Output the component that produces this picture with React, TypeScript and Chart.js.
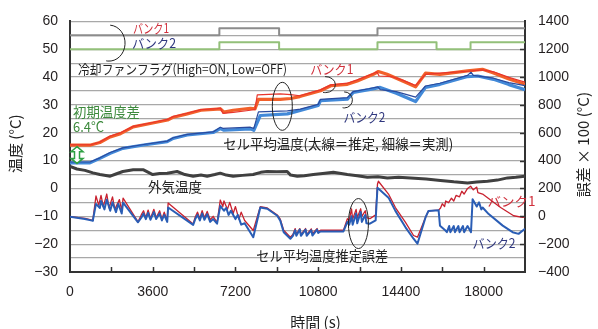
import React, { useEffect, useRef } from 'react';
import { Chart, registerables } from 'chart.js';

Chart.register(...registerables);

const X_MAX = 19800;

// Cooling fan flags (High = ON)
const fan1T = [0, 6500, 6500, 9100, 9100, 13380, 13380, 19800];
const fan1V = [55, 55, 57.5, 57.5, 55, 55, 57.5, 57.5];
const fan2T = [0, 6500, 6500, 9100, 9100, 13380, 13380, 15950, 15950, 17430, 17430, 19800];
const fan2V = [50, 50, 52.5, 52.5, 50, 50, 52.5, 52.5, 50, 50, 52.5, 52.5];

// Bank1 cell average temperature (estimated = thick, measured = thin)
const b1EstT = [0, 900, 1300, 1750, 2200, 2750, 3600, 4250, 4500, 5100, 5700, 6400, 6550, 6700, 7100, 7850, 8050, 8200, 9150, 9600, 10000, 10900, 11350, 12070, 12500, 13200, 13420, 13800, 14500, 15040, 15470, 16100, 17300, 17950, 18430, 19100, 19800];
const b1EstV = [15.6, 15.6, 16.5, 18.5, 19.7, 22.1, 23.5, 24.6, 25.6, 26.8, 28.1, 28.5, 28.6, 27.4, 28.1, 28.8, 28.6, 32.0, 32.0, 32.3, 33.0, 35.1, 36.9, 37.4, 38.6, 41.0, 42.0, 41.0, 38.5, 36.5, 41.4, 41.0, 42.2, 42.8, 41.5, 39.3, 37.4];
const b1MeasT = [0, 900, 1300, 1750, 2200, 2750, 3600, 4250, 4500, 5100, 5700, 6400, 6550, 6650, 7100, 7850, 8050, 8150, 9150, 9600, 10000, 10900, 11350, 12070, 12500, 13200, 13350, 13450, 14000, 14500, 15040, 15470, 16100, 17300, 17950, 18430, 19100, 19800];
const b1MeasV = [15.7, 15.7, 16.7, 18.8, 20.0, 22.3, 23.7, 24.8, 25.9, 27.0, 28.3, 28.7, 28.9, 27.0, 27.3, 28.1, 28.4, 33.6, 34.0, 33.7, 33.3, 35.4, 37.2, 37.8, 39.0, 41.3, 41.9, 40.4, 40.2, 38.8, 37.0, 41.0, 41.4, 42.1, 42.6, 41.9, 39.9, 38.2];

// Bank2 cell average temperature
const b2EstT = [0, 870, 1300, 1750, 2300, 3200, 4230, 4490, 5100, 6230, 6540, 6700, 7850, 8000, 8280, 9460, 10020, 10800, 10900, 12070, 12330, 13000, 13500, 14200, 15040, 15470, 16100, 17300, 17740, 18430, 19100, 19800];
const b2EstV = [9.2, 9.2, 10.8, 12.6, 14.4, 15.6, 16.8, 18.0, 19.2, 20.1, 21.5, 20.9, 21.4, 20.9, 26.2, 26.8, 28.0, 29.8, 31.5, 32.1, 34.5, 35.5, 36.3, 34.2, 31.2, 36.3, 37.4, 40.2, 40.4, 39.2, 37.3, 35.5];
const b2MeasT = [0, 870, 1300, 1750, 2300, 3200, 4230, 4490, 5100, 6230, 6540, 6650, 7850, 8000, 8200, 9460, 10020, 10800, 10900, 12070, 12330, 13000, 13400, 13500, 14200, 15040, 15470, 16100, 17300, 17450, 17550, 18430, 19100, 19800];
const b2MeasV = [9.5, 9.5, 11.0, 12.9, 14.6, 15.8, 17.0, 18.2, 19.4, 20.3, 22.0, 21.6, 22.0, 21.6, 27.5, 27.9, 28.5, 30.2, 32.0, 32.6, 34.8, 35.8, 36.5, 35.5, 34.8, 32.8, 36.8, 37.8, 40.6, 41.8, 40.6, 39.6, 38.0, 36.9];

// Outside air temperature
const outT = [0, 300, 650, 1000, 1300, 1750, 2000, 2300, 2750, 3200, 3600, 3900, 4230, 4660, 5000, 5360, 5700, 5970, 6300, 6540, 6800, 7100, 7500, 7970, 8300, 8580, 9000, 9450, 9600, 9890, 10200, 10590, 11000, 11460, 11800, 12070, 12500, 12940, 13400, 13810, 14300, 14820, 15500, 16120, 16700, 17300, 17700, 18170, 18600, 19040, 19400, 19800];
const outV = [7.9, 7.0, 6.5, 5.6, 5.0, 4.4, 5.2, 6.1, 6.7, 6.7, 5.0, 5.4, 5.5, 6.1, 5.0, 4.4, 4.8, 4.4, 5.0, 5.5, 4.8, 4.4, 4.7, 5.0, 5.8, 6.1, 6.0, 6.1, 4.8, 4.4, 4.6, 5.0, 5.4, 5.8, 5.4, 5.0, 4.6, 4.0, 4.2, 3.8, 4.0, 3.8, 3.4, 2.9, 2.4, 2.0, 2.3, 2.6, 3.0, 3.8, 4.0, 4.4];

// Estimation error (x100 °C), right axis
const e2T = [0, 650, 960, 1000, 1130, 1300, 1350, 1500, 1600, 1750, 1850, 2000, 2100, 2250, 2310, 2960, 3100, 3200, 3300, 3400, 3500, 3650, 3750, 3900, 4000, 4100, 4230, 4270, 5360, 5450, 5550, 5650, 5750, 5850, 5970, 6100, 6230, 6400, 6540, 6700, 6800, 6900, 7000, 7200, 7300, 7450, 7600, 7975, 8280, 8585, 9020, 9150, 9300, 9590, 9700, 9800, 9850, 10000, 10050, 10250, 10300, 10500, 10550, 10750, 10800, 10900, 11900, 12070, 12150, 12250, 12300, 12450, 12500, 12650, 12700, 12850, 12900, 13050, 13300, 13380, 13860, 14160, 14600, 14950, 15120, 15470, 15600, 16040, 16100, 16340, 16400, 16500, 16550, 16700, 16750, 16900, 16950, 17100, 17150, 17300, 17450, 17520, 17700, 17800, 17900, 17955, 18220, 18830, 19260, 19520, 19800];
const e2V = [-3, -19, -31, -25, 89, 60, 110, 50, 120, 40, 100, 30, 90, 20, 98, -43, -10, 20, -20, 25, -25, 30, -20, 20, -30, 10, -40, 63, -62, -20, 10, -30, 20, -25, 15, -40, -20, -53, 75, 40, 60, 10, 40, -20, 10, -60, -50, -150, 63, 54, 4, -31, -114, -161, -140, -100, -140, -95, -140, -95, -140, -100, -138, -95, -120, -109, -109, -40, -60, 0, -60, 20, -50, 30, -40, 10, -50, -53, -30, 205, 134, 39, -79, -161, -197, -8, 39, 44, -67, -102, -114, -70, -114, -70, -114, -70, -114, -70, -114, -70, -114, 122, 70, 100, 50, 63, 16, -67, -114, -126, -90];
const e1T = [0, 650, 960, 1000, 1130, 1250, 1350, 1450, 1600, 1700, 1850, 1950, 2150, 2250, 2310, 2960, 3100, 3200, 3300, 3400, 3500, 3650, 3750, 3900, 4000, 4100, 4230, 4270, 5360, 5450, 5550, 5650, 5750, 5850, 5970, 6100, 6230, 6400, 6540, 6650, 6700, 6850, 6950, 7100, 7200, 7350, 7450, 7600, 7975, 8280, 8585, 9020, 9150, 9300, 9590, 9700, 9800, 9850, 10000, 10050, 10250, 10300, 10500, 10550, 10750, 10800, 10900, 11900, 12070, 12150, 12250, 12300, 12450, 12500, 12650, 12700, 12850, 12900, 13050, 13300, 13380, 13420, 13860, 14160, 14600, 14950, 15120, 15470, 15600, 16040, 16125, 16200, 16300, 16350, 16473, 16600, 16700, 16800, 16950, 17050, 17150, 17300, 17432, 17550, 17700, 17750, 17955, 18200, 18739, 19306, 19700, 19800];
const e1V = [-3, -15, -28, -20, 146, 80, 150, 70, 160, 60, 140, 50, 120, 40, 131, -40, 10, 40, -10, 45, -15, 50, -10, 40, -20, 30, -30, 96, -55, -5, 30, -15, 40, -10, 35, -25, 0, -45, 117, 70, 110, 50, 100, 20, 70, -20, 30, -30, -102, 70, 60, 10, -20, -100, -150, -130, -88, -130, -88, -130, -88, -130, -90, -125, -88, -110, -100, -100, -17, -30, 54, -20, 50, -10, 54, 0, 40, -10, -17, 10, 230, 252, 160, 63, -43, -138, -150, -8, 39, 44, 60, 90, 70, 110, 98, 130, 110, 150, 140, 180, 160, 200, 216, 190, 210, 170, 160, 130, 63, 4, -8, -3];

const JP = '"Noto Sans CJK JP", "Noto Sans", sans-serif';
const NUM = '"Liberation Sans", Arial, sans-serif';
const RED = '#d0303c';
const NAVY = '#30387f';
const GREEN = '#3d8a3d';

const notes = [
  { t: 2746, v: 57.5, text: 'バンク1', color: RED, size: 13, w: 36 },
  { t: 2702, v: 52.2, text: 'バンク2', color: NAVY, size: 13, w: 44 },
  { t: 349, v: 43.0, text: '冷却ファンフラグ(High=ON, Low=OFF)', color: '#222', size: 13, w: 209 },
  { t: 131, v: 27.4, text: '初期温度差', color: GREEN, size: 14, w: 67 },
  { t: 131, v: 22.1, text: '6.4°C', color: GREEN, size: 14, w: 31 },
  { t: 6668, v: 16.1, text: 'セル平均温度(太線＝推定, 細線＝実測)', color: '#222', size: 14, w: 230 },
  { t: 10459, v: 43.0, text: 'バンク1', color: RED, size: 13, w: 43 },
  { t: 11897, v: 25.6, text: 'バンク2', color: NAVY, size: 13, w: 42 },
  { t: 3399, v: 0.8, text: '外気温度', color: '#222', size: 14, w: 54 },
  { t: 8106, v: -24.0, text: 'セル平均温度推定誤差', color: '#222', size: 14, w: 132 },
  { t: 18173, v: -4.5, text: 'バンク1', color: RED, size: 13, w: 48 },
  { t: 17519, v: -19.7, text: 'バンク2', color: NAVY, size: 13, w: 43 },
];

const ellipses = [
  { t: 1700, v: 52.2, rx: 16, ry: 18, a0: -1.5, a1: 1.75 },
  { t: 9239, v: 29.5, rx: 10, ry: 24, a0: 0, a1: Math.PI * 2 },
  { t: 11113, v: 37.3, rx: 10, ry: 8, a0: -1.6, a1: 1.8 },
  { t: 11941, v: 31.8, rx: 8, ry: 8, a0: -1.6, a1: 1.8 },
  { t: 12551, v: -12.6, rx: 10, ry: 25, a0: 0, a1: Math.PI * 2 },
];

const arrowSpec = { t: 305, vTop: 15.0, vBot: 9.0 };

const pts = (T: number[], V: number[]) => T.map((t, i) => ({ x: t, y: V[i] }));
const minus = (v: number) => String(v).replace('-', '−');

const overlay = {
  id: 'overlay',
  afterDatasetsDraw(chart: any) {
    const { ctx, chartArea: ca, scales } = chart;
    const xs = scales.x, ys = scales.y, rs = scales.y2;
    ctx.save();
    // inner tick marks
    ctx.strokeStyle = '#333';
    ctx.lineWidth = 1.5;
    for (let t = 1800; t < X_MAX; t += 1800) {
      const p = Math.round(xs.getPixelForValue(t)) + 0.5;
      ctx.beginPath(); ctx.moveTo(p, ca.bottom); ctx.lineTo(p, ca.bottom - 5); ctx.stroke();
    }
    for (let r = -200; r < 1400; r += 200) {
      const p = Math.round(rs.getPixelForValue(r)) + 0.5;
      ctx.beginPath(); ctx.moveTo(ca.right, p); ctx.lineTo(ca.right - 5, p); ctx.stroke();
    }
    // ellipses / brackets
    ctx.strokeStyle = '#222';
    ctx.lineWidth = 1;
    for (const e of ellipses) {
      ctx.beginPath();
      ctx.ellipse(xs.getPixelForValue(e.t), ys.getPixelForValue(e.v), e.rx, e.ry, 0, e.a0, e.a1);
      ctx.stroke();
    }
    // double arrow
    const ax = xs.getPixelForValue(arrowSpec.t);
    const y0 = ys.getPixelForValue(arrowSpec.vTop);
    const y1 = ys.getPixelForValue(arrowSpec.vBot);
    const hw = 6, hh = 5, sw = 2.5;
    ctx.beginPath();
    ctx.moveTo(ax, y0);
    ctx.lineTo(ax + hw, y0 + hh); ctx.lineTo(ax + sw, y0 + hh);
    ctx.lineTo(ax + sw, y1 - hh); ctx.lineTo(ax + hw, y1 - hh);
    ctx.lineTo(ax, y1);
    ctx.lineTo(ax - hw, y1 - hh); ctx.lineTo(ax - sw, y1 - hh);
    ctx.lineTo(ax - sw, y0 + hh); ctx.lineTo(ax - hw, y0 + hh);
    ctx.closePath();
    ctx.fillStyle = '#ffffff';
    ctx.fill();
    ctx.strokeStyle = '#2ea043';
    ctx.lineWidth = 1.5;
    ctx.stroke();
    // notes (compressed to the reference widths)
    ctx.textBaseline = 'middle';
    ctx.textAlign = 'left';
    for (const n of notes) {
      ctx.font = `${n.size}px ${JP}`;
      ctx.fillStyle = n.color;
      const m = ctx.measureText(n.text).width;
      const sx = n.w ? n.w / m : 1;
      ctx.save();
      ctx.translate(xs.getPixelForValue(n.t), ys.getPixelForValue(n.v));
      ctx.scale(sx, 1);
      ctx.fillText(n.text, 0, 0);
      ctx.restore();
    }
    // axis titles
    ctx.fillStyle = '#222';
    ctx.font = `15px ${JP}`;
    ctx.textAlign = 'center';
    const midY = (ca.top + ca.bottom) / 2;
    ctx.save();
    ctx.translate(15, midY - 3);
    ctx.rotate(-Math.PI / 2);
    ctx.fillText('温度 (°C)', 0, 0);
    ctx.restore();
    ctx.save();
    ctx.translate(ca.right + 58, midY - 2);
    ctx.rotate(-Math.PI / 2);
    ctx.fillText('誤差 × 100 (°C)', 0, 0);
    ctx.restore();
    ctx.fillText('時間 (s)', (ca.left + ca.right) / 2 + 18, ca.bottom + 50);
    ctx.restore();
  },
};

export default function App() {
  const ref = useRef<HTMLCanvasElement>(null);
  useEffect(() => {
    if (!ref.current) return;
    const tickFont = { family: NUM, size: 14 };
    const chart = new Chart(ref.current, {
      type: 'line',
      data: {
        datasets: [
          { label: 'fan1', data: pts(fan1T, fan1V), borderColor: '#8c8c8c', borderWidth: 2 },
          { label: 'fan2', data: pts(fan2T, fan2V), borderColor: '#93c07a', borderWidth: 2 },
          { label: 'b1meas', data: pts(b1MeasT, b1MeasV), borderColor: '#e8352c', borderWidth: 1.2 },
          { label: 'b2meas', data: pts(b2MeasT, b2MeasV), borderColor: '#2a4a9e', borderWidth: 1.2 },
          { label: 'b1est', data: pts(b1EstT, b1EstV), borderColor: '#f2602a', borderWidth: 3.2 },
          { label: 'b2est', data: pts(b2EstT, b2EstV), borderColor: '#4289d8', borderWidth: 3.2 },
          { label: 'out', data: pts(outT, outV), borderColor: '#404040', borderWidth: 3 },
          { label: 'err2', data: pts(e2T, e2V), borderColor: '#2a5db5', borderWidth: 2, yAxisID: 'y2' },
          { label: 'err1', data: pts(e1T, e1V), borderColor: '#c8202e', borderWidth: 1.3, yAxisID: 'y2' },
        ] as any,
      },
      options: {
        animation: false,
        responsive: true,
        maintainAspectRatio: false,
        layout: { padding: { top: 18, left: 0, right: 0, bottom: 0 } },
        elements: { point: { radius: 0 }, line: { tension: 0, borderJoinStyle: 'round' } },
        plugins: { legend: { display: false }, tooltip: { enabled: false } },
        scales: {
          x: {
            type: 'linear',
            min: 0,
            max: X_MAX,
            grid: { display: false, drawTicks: false },
            border: { display: true, color: '#333', width: 2 },
            ticks: {
              stepSize: 1800,
              autoSkip: false,
              maxRotation: 0,
              padding: 12,
              color: '#231f20',
              font: tickFont,
              callback: (v: any) => (v % 3600 === 0 ? String(v) : ''),
            },
            afterFit: (s: any) => { s.height = 57; },
          },
          y: {
            position: 'left',
            min: -30,
            max: 60,
            grid: { color: '#a8a8a8', lineWidth: 1.2, drawTicks: false },
            border: { display: true, color: '#333', width: 2 },
            ticks: {
              stepSize: 5,
              autoSkip: false,
              padding: 12,
              color: '#231f20',
              font: tickFont,
              callback: (v: any) => (v % 10 === 0 ? minus(v) : ''),
            },
            afterFit: (s: any) => { s.width = 70; },
          },
          y2: {
            position: 'right',
            min: -400,
            max: 1400,
            grid: { display: false, drawTicks: false },
            border: { display: true, color: '#333', width: 2 },
            ticks: {
              stepSize: 200,
              autoSkip: false,
              padding: 13,
              color: '#231f20',
              font: tickFont,
              callback: (v: any) => minus(v),
            },
            afterFit: (s: any) => { s.width = 73; },
          },
        },
      } as any,
      plugins: [overlay],
    });
    return () => chart.destroy();
  }, []);
  return (
    <div style={{ position: 'absolute', left: 0, top: 0, width: 598, height: 329, background: '#fff' }}>
      <canvas ref={ref} />
    </div>
  );
}
